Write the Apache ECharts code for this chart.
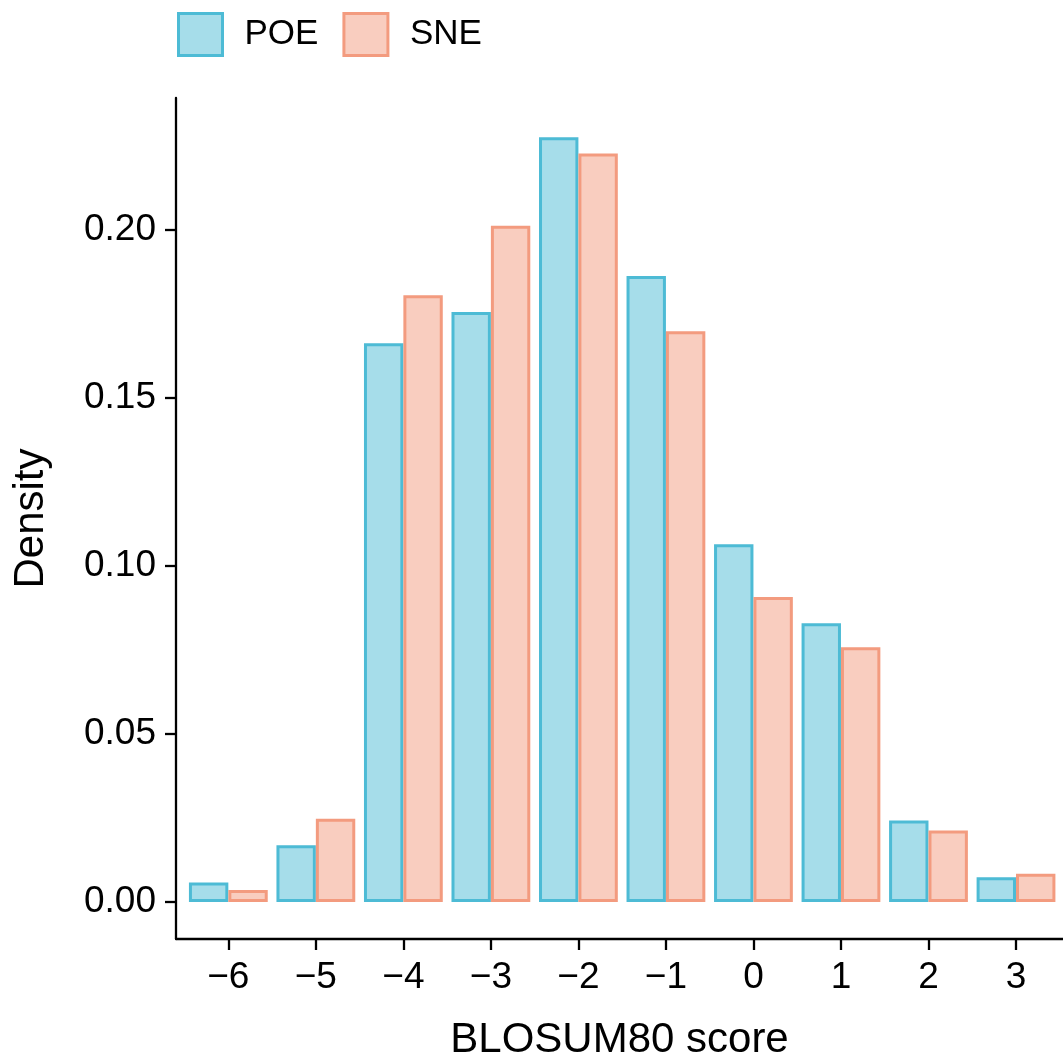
<!DOCTYPE html>
<html>
<head>
<meta charset="utf-8">
<script src="https://cdn.jsdelivr.net/npm/echarts@6/dist/echarts.min.js"></script>
<style>html,body{margin:0;padding:0;background:#fff;}#c{width:1063px;height:1061px;}</style>
</head>
<body>
<div id="c"></div>
<script>
var scores = [-6, -5, -4, -3, -2, -1, 0, 1, 2, 3];
var poe = [0.0058, 0.0169, 0.1663, 0.1756, 0.2276, 0.1863, 0.1065, 0.0830, 0.0243, 0.0074];
var sne = [0.0036, 0.0248, 0.1806, 0.2013, 0.2228, 0.1699, 0.0908, 0.0758, 0.0213, 0.0084];
var yTicks = [0, 0.05, 0.10, 0.15, 0.20];
var seriesNames = ['POE', 'SNE'];

var font = '"Liberation Sans", Arial, Helvetica, sans-serif';
var colors = {
  POE: {fill: 'rgba(77,187,213,0.5)', stroke: '#4DBBD5'},
  SNE: {fill: 'rgba(243,155,127,0.5)', stroke: '#F39B7F'}
};
function pairs(vals) { return scores.map(function (s, i) { return [s, vals[i]]; }); }

var chart = echarts.init(document.getElementById('c'), null, {renderer: 'canvas'});
chart.setOption({
  animation: false,
  backgroundColor: '#fff',
  grid: {left: 176, right: 0, top: 98, bottom: 122, containLabel: false, outerBoundsMode: 'none'},
  legend: {
    left: 177, top: 12, padding: 0,
    itemWidth: 44, itemHeight: 42, itemGap: 24,
    textStyle: {fontFamily: font, fontSize: 35, color: '#000', padding: [0, 0, 0, 17]},
    data: seriesNames.map(function (n) {
      return {name: n, icon: 'rect', itemStyle: {color: colors[n].fill, borderColor: colors[n].stroke, borderWidth: 3}};
    })
  },
  xAxis: {
    type: 'value', min: -6.598, max: 3.537,
    name: 'BLOSUM80 score', nameLocation: 'middle', nameGap: 80,
    nameTextStyle: {fontFamily: font, fontSize: 42, color: '#000'},
    splitLine: {show: false},
    axisLine: {show: true, onZero: false, lineStyle: {color: '#000', width: 2.3}},
    axisTick: {show: true, length: 11, lineStyle: {color: '#000', width: 2.3}, customValues: scores},
    axisLabel: {
      fontFamily: font, fontSize: 37, color: '#000', margin: 20, customValues: scores,
      formatter: function (v) { return v < 0 ? '\u2212' + Math.abs(v) : String(v); }
    }
  },
  yAxis: {
    type: 'value', min: -0.011, max: 0.2393,
    name: 'Density', nameLocation: 'middle', nameGap: 124,
    nameTextStyle: {fontFamily: font, fontSize: 42, color: '#000'},
    splitLine: {show: false},
    axisLine: {show: true, onZero: false, lineStyle: {color: '#000', width: 2.3}},
    axisTick: {show: true, length: 11, lineStyle: {color: '#000', width: 2.3}, customValues: yTicks},
    axisLabel: {
      fontFamily: font, fontSize: 37, color: '#000', margin: 20, customValues: yTicks,
      formatter: function (v) { return v.toFixed(2); }
    }
  },
  series: [
    {name: 'POE', type: 'bar', data: pairs(poe), barWidth: 39.4, barGap: '0%',
     itemStyle: {color: colors.POE.fill, borderColor: colors.POE.stroke, borderWidth: 3}},
    {name: 'SNE', type: 'bar', data: pairs(sne), barWidth: 39.4, barGap: '0%',
     itemStyle: {color: colors.SNE.fill, borderColor: colors.SNE.stroke, borderWidth: 3}}
  ]
});
</script>
</body>
</html>
